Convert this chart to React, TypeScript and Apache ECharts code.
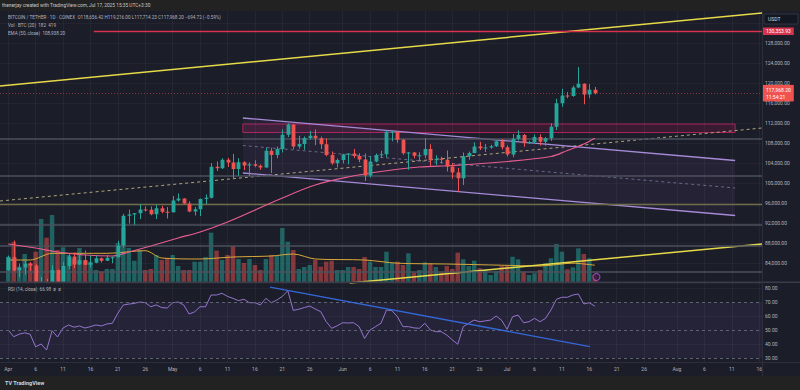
import React, { useEffect, useRef } from "react";
import * as echarts from "echarts";

const FONT = "Roboto, 'Liberation Sans', Arial, sans-serif";
const MONTHS = ["Jan", "Feb", "Mar", "Apr", "May", "Jun", "Jul", "Aug", "Sep", "Oct", "Nov", "Dec"];

// Daily categories, Mar 31 .. Aug 16, 2025 (category index i; day d = i - 1, d = 0 is Apr 1)
const dates: string[] = [];
for (let i = 0; i < 139; i++) dates.push(new Date(Date.UTC(2025, 2, 31 + i)).toISOString().slice(0, 10));
const TICK_DAYS = [1, 6, 11, 16, 21, 26];

// [open, close, low, high], Apr 1 .. Jul 17
const candles: number[][] = [
  [82550, 85160, 82430, 85490], [85160, 82520, 82300, 88500], [82520, 83100, 81200, 83900], [83100, 83850, 81650, 84700], [83850, 83500, 82400, 84200],
  [83500, 78200, 77150, 83750], [78200, 79150, 74500, 81200], [79150, 76300, 76200, 80850], [76300, 82600, 74600, 83550], [82600, 79600, 78400, 82700],
  [79600, 83400, 79000, 84250], [83400, 85300, 82800, 85850], [85300, 83700, 83000, 86100], [83700, 84550, 83600, 85800], [84550, 83650, 83600, 86500],
  [83650, 84050, 83100, 85500], [84050, 84950, 83950, 85450], [84950, 84450, 84100, 85100], [84450, 85050, 84400, 85600], [85050, 85150, 83950, 85300],
  [85150, 87500, 85100, 88450], [87500, 93450, 87100, 93850], [93450, 93700, 91900, 94700], [93700, 93950, 91650, 94000], [93950, 94700, 92800, 95750],
  [94700, 94650, 94300, 95300], [94650, 93750, 93550, 95300], [93750, 94950, 92800, 95600], [94950, 94250, 93950, 95450], [94250, 94150, 92900, 95200],
  [94150, 96500, 94100, 97400], [96500, 96900, 96300, 97900], [96900, 95900, 95750, 96950], [95900, 94300, 94150, 96350], [94300, 94750, 93500, 95200],
  [94750, 96800, 93400, 96900], [96800, 97050, 95800, 97700], [97050, 103250, 96900, 104000], [103250, 102950, 102400, 104300], [102950, 104650, 102800, 104950],
  [104650, 104100, 103200, 105000], [104100, 102800, 100750, 105800], [102800, 104150, 101450, 104950], [104150, 103500, 102600, 104350], [103500, 103750, 101350, 104150],
  [103750, 103450, 103150, 104550], [103450, 103100, 102650, 103700], [103100, 106450, 103050, 107100], [106450, 105600, 102000, 107050], [105600, 106800, 104950, 107300],
  [106800, 109650, 106100, 110750], [109650, 111700, 109200, 111950], [111700, 107300, 106800, 111750], [107300, 107800, 106850, 109450], [107800, 109000, 106650, 109300],
  [109000, 109450, 108700, 110400], [109450, 108950, 107550, 110700], [108950, 107750, 106800, 109300], [107750, 105600, 105350, 108900], [105600, 103950, 103650, 106300],
  [103950, 104600, 103100, 104900],
  [104600, 105700, 103900, 105850], [105700, 105900, 103700, 105950], [105900, 105400, 105000, 106800], [105400, 104700, 104150, 105950], [104700, 101500, 100400, 105900],
  [101500, 104300, 101100, 105300], [104300, 105600, 104150, 105900], [105600, 105750, 105050, 106450], [105750, 110250, 105100, 110500], [110250, 110250, 108350, 110400],
  [110250, 108650, 108050, 110400], [108650, 105950, 105650, 108800], [105950, 106100, 102650, 106200], [106100, 105450, 104950, 106200], [105450, 105550, 104500, 106150],
  [105550, 106800, 104950, 108950], [106800, 104550, 103400, 107750], [104550, 104850, 103600, 105550], [104850, 104650, 103900, 105250], [104650, 103300, 102300, 106500],
  [103300, 102100, 100850, 104000], [102100, 100950, 98200, 103000], [100950, 105350, 99600, 106100], [105350, 106000, 104650, 106300], [106000, 107300, 105950, 108150],
  [107300, 106950, 106600, 108250], [106950, 107100, 106200, 107800], [107100, 107350, 106850, 107650], [107350, 108350, 107200, 108500], [108350, 107150, 106700, 108800],
  [107150, 105700, 105300, 107550], [105700, 108850, 105150, 109800], [108850, 109600, 108500, 110550], [109600, 107950, 107250, 109800], [107950, 108200, 107800, 108450],
  [108200, 109200, 107850, 109700], [109200, 108250, 107500, 109750], [108250, 108950, 107450, 109200], [108950, 111250, 108400, 111950], [111250, 115950, 110600, 116850],
  [115950, 117500, 115250, 118850], [117500, 117400, 116950, 118200], [117400, 119100, 117250, 119500], [119100, 119850, 118950, 123200], [119850, 117700, 115750, 119950],
  [117700, 118650, 116950, 119800], [118656.42, 117968.2, 117714.23, 119216],
];

const volumes: number[] = [
  633, 1008, 383, 700, 475, 758, 1575, 1108, 1675, 800,
  868, 675, 575, 850, 550, 508, 300, 258, 325, 325,
  975, 1350, 850, 533, 800, 300, 325, 675, 550, 600,
  675, 400, 300, 300, 508, 508, 625, 1233, 783, 550,
  675, 900, 575, 475, 575, 425, 300, 575, 675, 650,
  1350, 1008, 800, 325, 375, 425, 550, 383, 508, 533,
  300,
  300, 375, 375, 325, 625, 508, 375, 375, 758, 475,
  508, 425, 718, 233, 300, 493, 468, 375, 233, 400,
  325, 733, 568, 400, 533, 343, 300, 175, 283, 400,
  400, 633, 568, 258, 175, 218, 300, 468, 593, 950,
  758, 318, 368, 843, 700, 593, 182,
];

const rsi: number[] = [
  50, 45.2, 47, 48, 47, 38, 40, 35.7, 49.5, 45,
  51.4, 53.6, 52, 52.9, 51.4, 52.4, 53.6, 52.9, 54.3, 54.8,
  62, 67.9, 68.5, 69, 70, 69.5, 66.6, 67.9, 66, 65.7,
  69.5, 70, 67.9, 61.4, 63, 66.6, 66.6, 75, 75, 76.2,
  74, 72.6, 71, 71.9, 69.5, 69.5, 67.9, 72.6, 69.5, 71.4,
  74, 78, 64, 64.8, 66, 67.1, 65, 63.1, 56, 51.2,
  53, 55.2, 55, 55.2, 52.4, 44, 50, 52.4, 54.8, 64.3,
  63.8, 59.5, 52.4, 52.4, 51.5, 51.2, 54.8, 50, 48.8, 48.8,
  46.4, 43, 39.8, 52.4, 54.8, 57.1, 55.9, 56.5, 57.1, 60,
  57, 50.5, 59.5, 60.7, 55.2, 55.9, 58.3, 55.9, 58.3, 64.3,
  71.9, 73.4, 73.4, 75, 75.7, 68.6, 69.5, 66.98,
];

// [day, value] readings
const emaPoints: number[][] = [
  [0, 87800], [5, 87000], [9, 86200], [14, 85600], [19, 85400], [22, 86200], [26, 87400], [31, 89000], [35, 90200], [40, 92200],
  [50, 97000], [56, 99600], [62, 101200], [68, 102300], [75, 103200], [81, 103500], [90, 104200], [99, 105300], [102, 106500], [105, 107800], [107, 108938.2],
];
const volMaPoints: number[][] = [
  [0, 550], [4, 550], [8, 717], [18, 717], [25, 783], [28, 600], [35, 575], [41, 625], [48, 650], [52, 700],
  [56, 575], [65, 550], [71, 470], [80, 450], [90, 420], [97, 400], [103, 470], [107, 419],
];

// drawings, [day, price]
const upperTrend = [[-1.5, 119400], [137.5, 134000]];
const lowerTrend = [[62.3, 80000], [137.5, 87800]];
const dashedTrend = [[-1.5, 96400], [137.5, 111000]];
const channelTop = [[42.8, 113000], [132.6, 104500]];
const channelMid = [[42.8, 107500], [132.6, 99000]];
const channelBottom = [[42.8, 102000], [132.6, 93500]];
const zoneBox = { from: 42.8, to: 132.6, top: 111800, bottom: 110100 };
const resistance = { from: 15.6, to: 137.5, price: 130353.93 };
const grayLevels = [108800, 101500, 91600, 87500, 82300];
const oliveLevels = [95800];
const rsiTrend = [[47.75, 80.7], [106.1, 38.1]];
const lastPrice = 117968.2;
const countdown = "11:54:21";
const eventMark = [[107.3, 125]];

const PRICE_MIN = 80000, PRICE_MAX = 134800, PRICE_STEP = 4000;
const RSI_MIN = 20, RSI_MAX = 90, RSI_STEP = 10;
const X_MIN = -1.5, X_MAX = 137.5;

const fmt2 = (v: number) => v.toLocaleString("en-US", { minimumFractionDigits: 2, maximumFractionDigits: 2 });
const dayOf = (s: string) => parseInt(s.slice(8, 10), 10);
const monOf = (s: string) => parseInt(s.slice(5, 7), 10) - 1;

const BG = "#1b1d29";
const OUTER = "#222222";
const TXT = "#b2b5be";
const UP = "#26a69a";
const DOWN = "#ef5350";

export default function App() {
  const ref = useRef<HTMLDivElement>(null);
  useEffect(() => {
    document.body.style.margin = "0";
    const chart = echarts.init(ref.current!, undefined, { renderer: "svg" });
    const gridDays = dates.map((s, i) => ({ s, i })).filter(({ s, i }) => i > 0 && TICK_DAYS.includes(dayOf(s))).map(({ i }) => i - 1);
    const candleData = candles.map((c, d) => [d, c[0], c[1], c[2], c[3]]);
    const volData = volumes.map((v, d) => ({
      value: [d + 1, v],
      itemStyle: { color: candles[d][1] >= candles[d][0] ? "rgba(38,166,154,0.5)" : "rgba(239,83,80,0.5)" },
    }));
    const grids = [
      { left: 0, right: 38, top: 9, height: 274 },
      { left: 0, right: 38, top: 212, height: 70 },
      { left: 0, right: 38, top: 274, height: 98 },
      { left: 0, right: 38, top: 11, height: 351 },
    ];
    const labelStyle = { color: TXT, fontSize: 5, fontFamily: FONT };
    const rich = {
      a: { color: TXT, fontSize: 4.6, fontFamily: FONT },
      r: { color: DOWN, fontSize: 4.6, fontFamily: FONT },
      y: { color: "#d9a93a", fontSize: 4.6, fontFamily: FONT },
      p: { color: "#e85d8f", fontSize: 4.6, fontFamily: FONT },
      v: { color: "#9575cd", fontSize: 4.6, fontFamily: FONT },
    };
    const textEl = (x: number, y: number, text: string, z = 101) => ({
      type: "text", x, y, z,
      style: { text, rich, verticalAlign: "middle", textVerticalAlign: "middle", fill: TXT, fontSize: 4.6, fontFamily: FONT },
    });
    const renderCandle = (_p: any, api: any) => {
      const x = api.value(0), o = api.value(1), c = api.value(2), l = api.value(3), h = api.value(4);
      const pO = api.coord([x, o]);
      const pC = api.coord([x, c]);
      const pL = api.coord([x, l]);
      const pH = api.coord([x, h]);
      const w = api.size([1, 0])[0] * 0.7;
      const color = c >= o ? UP : DOWN;
      const cx = Math.round(pO[0]) + 0.5;
      const top = Math.min(pO[1], pC[1]);
      const hgt = Math.max(Math.abs(pO[1] - pC[1]), 1);
      return {
        type: "group",
        children: [
          { type: "line", shape: { x1: cx, y1: pH[1], x2: cx, y2: pL[1] }, style: { stroke: color, lineWidth: 1 } },
          { type: "rect", shape: { x: cx - w / 2, y: top, width: w, height: hgt }, style: { fill: color } },
        ],
      };
    };
    const option: any = {
      animation: false,
      backgroundColor: BG,
      grid: grids,
      xAxis: [
        { type: "category", gridIndex: 0, data: dates, show: false },
        { type: "category", gridIndex: 1, data: dates, show: false },
        {
          type: "category", gridIndex: 3, data: dates, boundaryGap: true,
          axisLine: { show: false }, axisTick: { show: false }, splitLine: { show: false },
          axisLabel: {
            ...labelStyle, margin: 4,
            interval: (i: number, v: string) => i > 0 && TICK_DAYS.includes(dayOf(v)),
            formatter: (v: string) => (dayOf(v) === 1 ? MONTHS[monOf(v)] : String(dayOf(v))),
          },
        },
        { type: "value", gridIndex: 0, min: X_MIN, max: X_MAX, show: false },
        { type: "value", gridIndex: 1, min: X_MIN, max: X_MAX, show: false },
        { type: "value", gridIndex: 2, min: X_MIN, max: X_MAX, show: false },
        { type: "value", gridIndex: 3, min: X_MIN, max: X_MAX, show: false },
      ],
      yAxis: [
        {
          type: "value", gridIndex: 0, position: "right", min: PRICE_MIN, max: PRICE_MAX, interval: PRICE_STEP,
          axisLine: { show: false }, axisTick: { show: false },
          splitLine: { lineStyle: { color: "rgba(255,255,255,0.035)" } },
          axisLabel: { ...labelStyle, margin: 3, formatter: (v: number) => (v === PRICE_MIN || v === 132000 ? "" : fmt2(v)) },
        },
        { type: "value", gridIndex: 1, min: 0, max: 1750, show: false },
        {
          type: "value", gridIndex: 2, position: "right", min: RSI_MIN, max: RSI_MAX, interval: RSI_STEP,
          axisLine: { show: false }, axisTick: { show: false }, splitLine: { show: false },
          axisLabel: { ...labelStyle, margin: 3, formatter: (v: number) => (v >= 30 && v <= 80 ? v.toFixed(2) : "") },
        },
        { type: "value", gridIndex: 3, min: 0, max: 1, show: false },
      ],
      series: [
        {
          type: "line", xAxisIndex: 6, yAxisIndex: 3, data: [[0, 0.5]], symbol: "none", lineStyle: { opacity: 0 }, silent: true, z: 0,
          markLine: {
            silent: true, symbol: ["none", "none"], label: { show: false },
            lineStyle: { color: "rgba(255,255,255,0.045)", width: 1, type: "solid" },
            data: gridDays.map((d) => ({ xAxis: d })),
          },
        },
        {
          type: "custom", xAxisIndex: 3, yAxisIndex: 0, silent: true, z: 1, data: [0],
          renderItem: (_p: any, api: any) => ({
            type: "polygon",
            shape: { points: [...channelTop, ...channelBottom.slice().reverse()].map((pt) => api.coord(pt)) },
            style: { fill: "rgba(149,117,205,0.07)" },
          }),
        },
        { type: "bar", xAxisIndex: 1, yAxisIndex: 1, barWidth: "82%", z: 1, silent: true, data: volData },
        { type: "line", xAxisIndex: 4, yAxisIndex: 1, data: volMaPoints, smooth: 0.3, symbol: "none", lineStyle: { color: "#d9a93a", width: 1 }, z: 2, silent: true },
        {
          type: "line", xAxisIndex: 3, yAxisIndex: 0, data: upperTrend, symbol: "none", silent: true,
          lineStyle: { color: "#e6da48", width: 1.5 }, z: 4,
          markLine: {
            silent: true, symbol: ["none", "none"], label: { show: false },
            data: [
              ...grayLevels.map((v) => ({ yAxis: v, lineStyle: { color: "#4d505c", width: 1.6, type: "solid" } })),
              ...oliveLevels.map((v) => ({ yAxis: v, lineStyle: { color: "#6f6c49", width: 1.4, type: "solid" } })),
              [
                {
                  coord: [resistance.from, resistance.price],
                  lineStyle: { color: "#d8334c", width: 1.3, type: "solid" },
                  label: {
                    show: true, position: "end", distance: 1, formatter: fmt2(resistance.price),
                    color: "#fff", backgroundColor: "#d8334c", fontSize: 5, fontFamily: FONT, padding: [1.5, 3, 1, 3],
                  },
                },
                { coord: [resistance.to, resistance.price] },
              ],
            ],
          },
          markArea: {
            silent: true,
            itemStyle: { color: "rgba(194,24,91,0.18)", borderColor: "#a8235a", borderWidth: 1 },
            data: [[{ coord: [zoneBox.from, zoneBox.top] }, { coord: [zoneBox.to, zoneBox.bottom] }]],
          },
        },
        { type: "line", xAxisIndex: 3, yAxisIndex: 0, data: lowerTrend, symbol: "none", silent: true, lineStyle: { color: "#e6da48", width: 1.5 }, z: 4 },
        { type: "line", xAxisIndex: 3, yAxisIndex: 0, data: dashedTrend, symbol: "none", silent: true, lineStyle: { color: "#aea77a", width: 1, type: [3, 3] }, z: 4 },
        { type: "line", xAxisIndex: 3, yAxisIndex: 0, data: channelTop, symbol: "none", silent: true, lineStyle: { color: "#a68ad8", width: 1.3 }, z: 4 },
        { type: "line", xAxisIndex: 3, yAxisIndex: 0, data: channelMid, symbol: "none", silent: true, lineStyle: { color: "#6c6888", width: 1, type: [3, 3] }, z: 4 },
        { type: "line", xAxisIndex: 3, yAxisIndex: 0, data: channelBottom, symbol: "none", silent: true, lineStyle: { color: "#a68ad8", width: 1.3 }, z: 4 },
        { type: "line", xAxisIndex: 3, yAxisIndex: 0, data: emaPoints, smooth: 0.35, symbol: "none", silent: true, lineStyle: { color: "#e85d8f", width: 1.2 }, z: 5 },
        {
          type: "custom", xAxisIndex: 3, yAxisIndex: 0, data: candleData, renderItem: renderCandle,
          encode: { x: 0, y: [1, 2, 3, 4] }, clip: true, z: 6, silent: true,
        },
        {
          type: "line", xAxisIndex: 3, yAxisIndex: 0, data: [], symbol: "none", silent: true, z: 6,
          markLine: {
            silent: true, symbol: ["none", "none"],
            data: [{
              yAxis: lastPrice,
              lineStyle: { color: "rgba(239,83,80,0.5)", width: 1, type: [1, 2] },
              label: {
                show: true, position: "end", distance: 1, formatter: `${fmt2(lastPrice)}\n${countdown}`,
                color: "#fff", backgroundColor: DOWN, fontSize: 5, lineHeight: 7, fontFamily: FONT, padding: [1.5, 3, 1, 3],
              },
            }],
          },
        },
        {
          type: "line", xAxisIndex: 5, yAxisIndex: 2, data: rsi.map((v, d) => [d, v]), symbol: "none", silent: true,
          lineStyle: { color: "#9575cd", width: 1 }, z: 4,
          markArea: { silent: true, itemStyle: { color: "rgba(126,87,194,0.1)" }, data: [[{ yAxis: 30 }, { yAxis: 70 }]] },
          markLine: {
            silent: true, symbol: ["none", "none"], label: { show: false },
            data: [
              ...[70, 50, 30].map((v) => ({ yAxis: v, lineStyle: { color: "#5f6272", width: 1, type: [3, 3] } })),
              ...[80, 60, 40].map((v) => ({ yAxis: v, lineStyle: { color: "rgba(255,255,255,0.035)", width: 1, type: "solid" } })),
            ],
          },
        },
        { type: "line", xAxisIndex: 5, yAxisIndex: 2, data: rsiTrend, symbol: "none", silent: true, lineStyle: { color: "#3468d8", width: 1.3 }, z: 5 },
        {
          type: "scatter", xAxisIndex: 4, yAxisIndex: 1, data: eventMark, symbol: "circle", symbolSize: 7, silent: true, z: 7,
          itemStyle: { color: "#2a1d3a", borderColor: "#b04ccf", borderWidth: 1.2 },
        },
      ],
      graphic: [
        { type: "rect", z: 50, shape: { x: 0, y: 281.5, width: 800, height: 1.6 }, style: { fill: "#3a3d49" } },
        { type: "rect", z: 50, shape: { x: 762, y: 11, width: 1, height: 365 }, style: { fill: "#2c2f3b" } },
        { type: "rect", z: 50, shape: { x: 0, y: 362, width: 800, height: 1 }, style: { fill: "#2c2f3b" } },
        { type: "rect", z: 100, shape: { x: 0, y: 0, width: 800, height: 11 }, style: { fill: OUTER } },
        { type: "rect", z: 100, shape: { x: 0, y: 376, width: 800, height: 14 }, style: { fill: OUTER } },
        {
          type: "text", x: 2, y: 5.5, z: 101,
          style: { text: "thenerjay created with TradingView.com, Jul 17, 2025 15:35 UTC+3:30", fill: "#c8c8c8", fontSize: 4.8, fontFamily: FONT, verticalAlign: "middle", textVerticalAlign: "middle" },
        },
        {
          type: "text", x: 5, y: 383, z: 101,
          style: { text: "TV TradingView", fill: "#d1d4dc", fontSize: 5.5, fontWeight: "bold", fontFamily: FONT, verticalAlign: "middle", textVerticalAlign: "middle" },
        },
        { type: "rect", z: 60, shape: { x: 764, y: 14, width: 34, height: 10, r: 1 }, style: { fill: "#131722", stroke: "#3a3d49", lineWidth: 0.8 } },
        { type: "text", z: 61, x: 768, y: 19, style: { text: "USDT", fill: "#d1d4dc", fontSize: 5, fontFamily: FONT, verticalAlign: "middle", textVerticalAlign: "middle" } },
        textEl(8, 17, "{a|BITCOIN / TETHER · 1D · COINEX}  {a|O}{r|118,656.42} {a|H}{r|119,216.00} {a|L}{r|117,714.23} {a|C}{r|117,968.20} {r|−694.72 (−0.59%)}"),
        textEl(8, 25, "{a|Vol · BTC (20)}  {r|182}  {y|419}"),
        textEl(8, 33, "{a|EMA (50, close)}  {p|108,938.20}"),
        textEl(8, 289.5, "{a|RSI (14, close)}  {v|66.98}  {a|ø}  {a|ø}"),
      ],
    };
    chart.setOption(option);
    return () => chart.dispose();
  }, []);
  return <div ref={ref} style={{ width: 800, height: 390 }} />;
}
